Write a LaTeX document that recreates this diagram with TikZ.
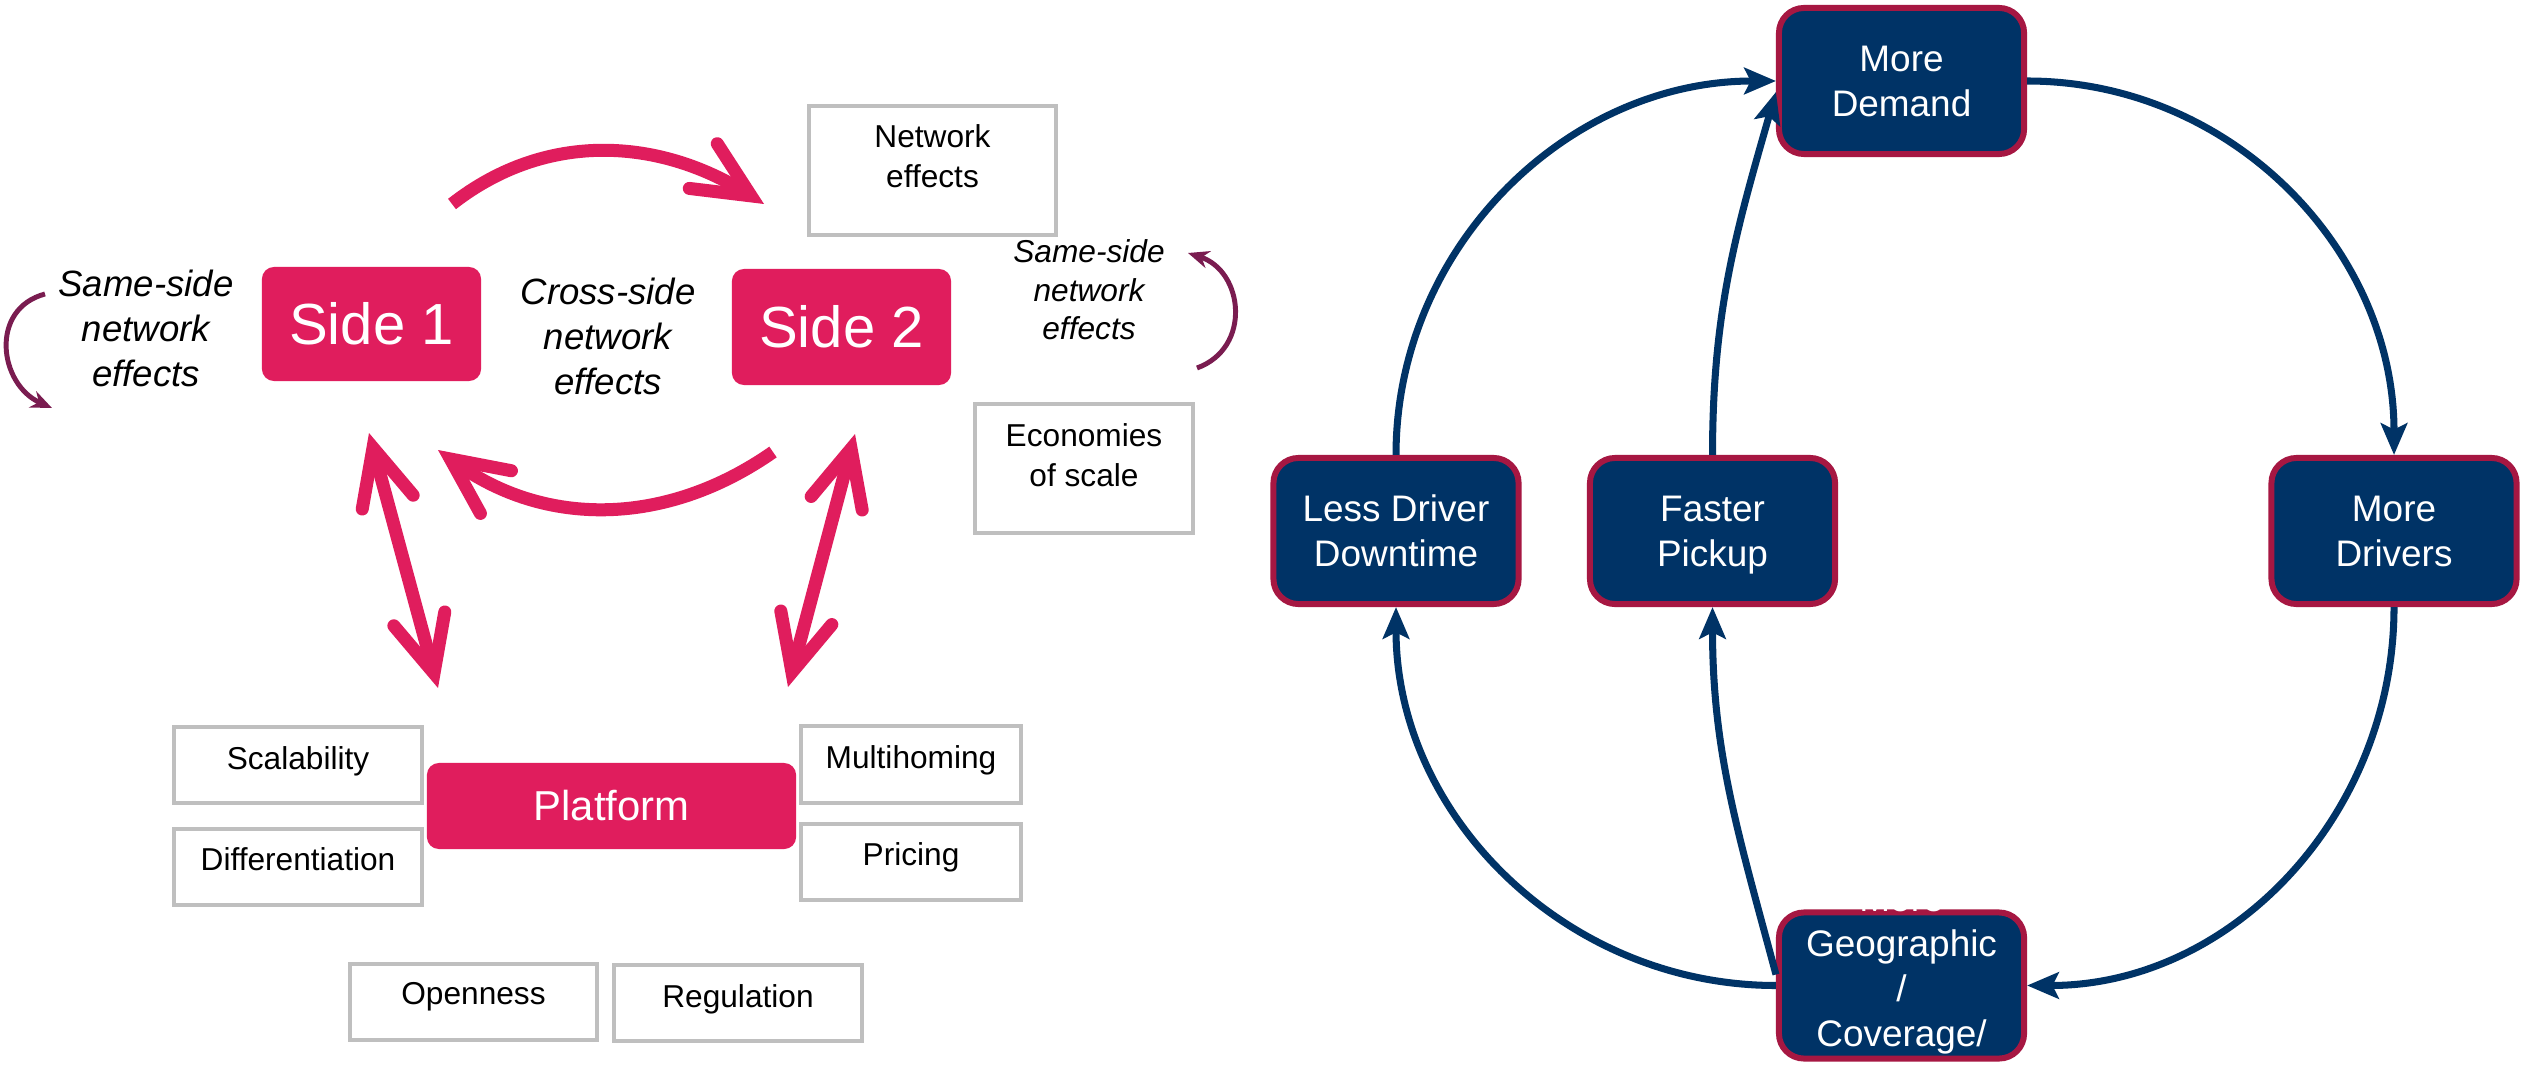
\documentclass[tikz,border=0pt]{standalone}
\usepackage{fontspec}
\setmainfont{Liberation Sans}
\usetikzlibrary{arrows.meta,calc}
\definecolor{pinkc}{RGB}{224,29,93}
\definecolor{navy}{RGB}{0,51,102}
\definecolor{crim}{RGB}{166,23,66}
\definecolor{purp}{RGB}{122,28,80}
\definecolor{grayb}{RGB}{191,191,191}
\begin{document}
\begin{tikzpicture}[x=0.01cm,y=0.01cm,
 pinkbox/.style={fill=pinkc, rounded corners=0.12cm, text=white, inner sep=0},
 graybox/.style={draw=grayb, line width=1.3pt, fill=white, inner sep=0},
 boxtext/.style={font=\fontsize{9pt}{11.4pt}\selectfont, align=center, inner sep=0, anchor=north},
 navybox/.style={fill=navy, draw=crim, line width=1.7pt, rounded corners=0.25cm, minimum width=2.45cm, minimum height=1.46cm, text=white, align=center, inner sep=0, font=\fontsize{10.5pt}{12.8pt}\selectfont},
 navyarr/.style={draw=navy, line width=2pt, -{Stealth[length=9pt,width=7.5pt,inset=1.8pt]}},
 pinkarr/.style={draw=pinkc, line width=3.7pt, -{Straight Barb[length=16pt,width=15pt,line cap=round,line join=miter]}},
 pinkdbl/.style={draw=pinkc, line width=3.7pt, {Straight Barb[length=16pt,width=15pt,line cap=round,line join=miter]}-{Straight Barb[length=16pt,width=15pt,line cap=round,line join=miter]}},
 purparr/.style={draw=purp, line width=1.4pt, -{Stealth[length=6pt,width=5pt]}},
 italt/.style={font=\itshape\fontsize{10.4pt}{12.8pt}\selectfont, align=center, inner sep=0},
 italsm/.style={font=\itshape\fontsize{9pt}{11pt}\selectfont, align=center, inner sep=0},
]
\useasboundingbox (0,0) rectangle (2522,-1067);
\fill[white] (0,0) rectangle (2522,-1067);

% ---------- left diagram ----------
\node[graybox, minimum width=2.47cm, minimum height=1.29cm] (ne) at (932.5,-170.5) {};
\node[boxtext] (net) at (932.5,-124) {Network\\effects};
\node[graybox, minimum width=2.18cm, minimum height=1.29cm] (eos) at (1084,-468.5) {};
\node[boxtext] (eost) at (1084,-423) {Economies\\of scale};

\node[pinkbox, minimum width=2.19cm, minimum height=1.14cm, font=\fontsize{16.5pt}{19pt}\selectfont] (s1) at (371.5,-324) {Side 1};
\node[pinkbox, minimum width=2.19cm, minimum height=1.16cm, font=\fontsize{16.5pt}{19pt}\selectfont] (s2) at (841.5,-327) {Side 2};

\node[italt] (ssl) at (146,-328) {Same-side\\network\\effects};
\node[italt] (cs) at (608,-336) {Cross-side\\network\\effects};
\node[italsm] (ssr) at (1089,-290) {Same-side\\network\\effects};

\node[graybox, minimum width=2.48cm, minimum height=0.76cm] (scal) at (298,-765) {};
\node[boxtext] (scalt) at (298,-746) {Scalability};
\node[graybox, minimum width=2.48cm, minimum height=0.76cm] (diff) at (298,-867) {};
\node[boxtext] (difft) at (298,-847) {Differentiation};
\node[graybox, minimum width=2.20cm, minimum height=0.77cm] (mh) at (911,-764.5) {};
\node[boxtext] (mht) at (911,-745) {Multihoming};
\node[graybox, minimum width=2.20cm, minimum height=0.76cm] (pr) at (911,-862) {};
\node[boxtext] (prt) at (911,-842) {Pricing};
\node[graybox, minimum width=2.47cm, minimum height=0.76cm] (op) at (473.5,-1002) {};
\node[boxtext] (opt) at (473.5,-982) {Openness};
\node[graybox, minimum width=2.48cm, minimum height=0.76cm] (rg) at (738,-1003) {};
\node[boxtext] (rgt) at (738,-984) {Regulation};

\node[pinkbox, minimum width=3.69cm, minimum height=0.86cm, font=\fontsize{11.9pt}{14pt}\selectfont] (pf) at (611.5,-806) {Platform};

\coordinate (ta1) at (452,-204);
\coordinate (ta2) at (764,-204);
\coordinate (ba1) at (773,-452);
\coordinate (ba2) at (438,-450);
\coordinate (dl1) at (369,-433);
\coordinate (dl2) at (438,-688);
\coordinate (dr1) at (855,-434);
\coordinate (dr2) at (788,-687);
\draw[pinkarr] (ta1) to[out=38,in=148] (ta2);
\draw[pinkarr] (ba1) to[out=-145,in=-36] (ba2);
\draw[pinkdbl] (dl1) -- (dl2);
\draw[pinkdbl] (dr1) -- (dr2);

\coordinate (pl1) at (45,-294);
\coordinate (pl2) at (52,-408);
\coordinate (pr1) at (1197,-368);
\coordinate (pr2) at (1188,-253);
\draw[purparr] (pl1) to[out=195,in=156,looseness=1.3] (pl2);
\draw[purparr] (pr1) to[out=20,in=-18,looseness=1.3] (pr2);

% ---------- right diagram ----------
\node[navybox] (md) at (1901.5,-81) {More\\Demand};
\node[navybox] (ldd) at (1396,-531) {Less Driver\\Downtime};
\node[navybox, text depth=0pt] (fp) at (1712.5,-531) {Faster\\Pickup};
\node[navybox] (mdr) at (2394,-531) {More\\Drivers};
\node[navybox] (bot) at (1901.5,-985.5) {};
\node[inner sep=0, text=white, align=center, font=\fontsize{10.5pt}{12.8pt}\selectfont] (botl) at (1901.5,-970) {More\\Geographic\\/\\Coverage/};

\draw[navyarr] (md.east) to[out=0,in=90] (mdr.north);
\draw[navyarr] (mdr.south) to[out=-90,in=0] (bot.east);
\draw[navyarr] (bot.west) to[out=180,in=-90] (ldd.south);
\draw[navyarr] (bot.175) to[out=105,in=-90] (fp.south);
\draw[navyarr] (ldd.north) to[out=90,in=180] (md.west);
\draw[navyarr] (fp.north) to[out=90,in=-106] (md.185);
\end{tikzpicture}
\end{document}
